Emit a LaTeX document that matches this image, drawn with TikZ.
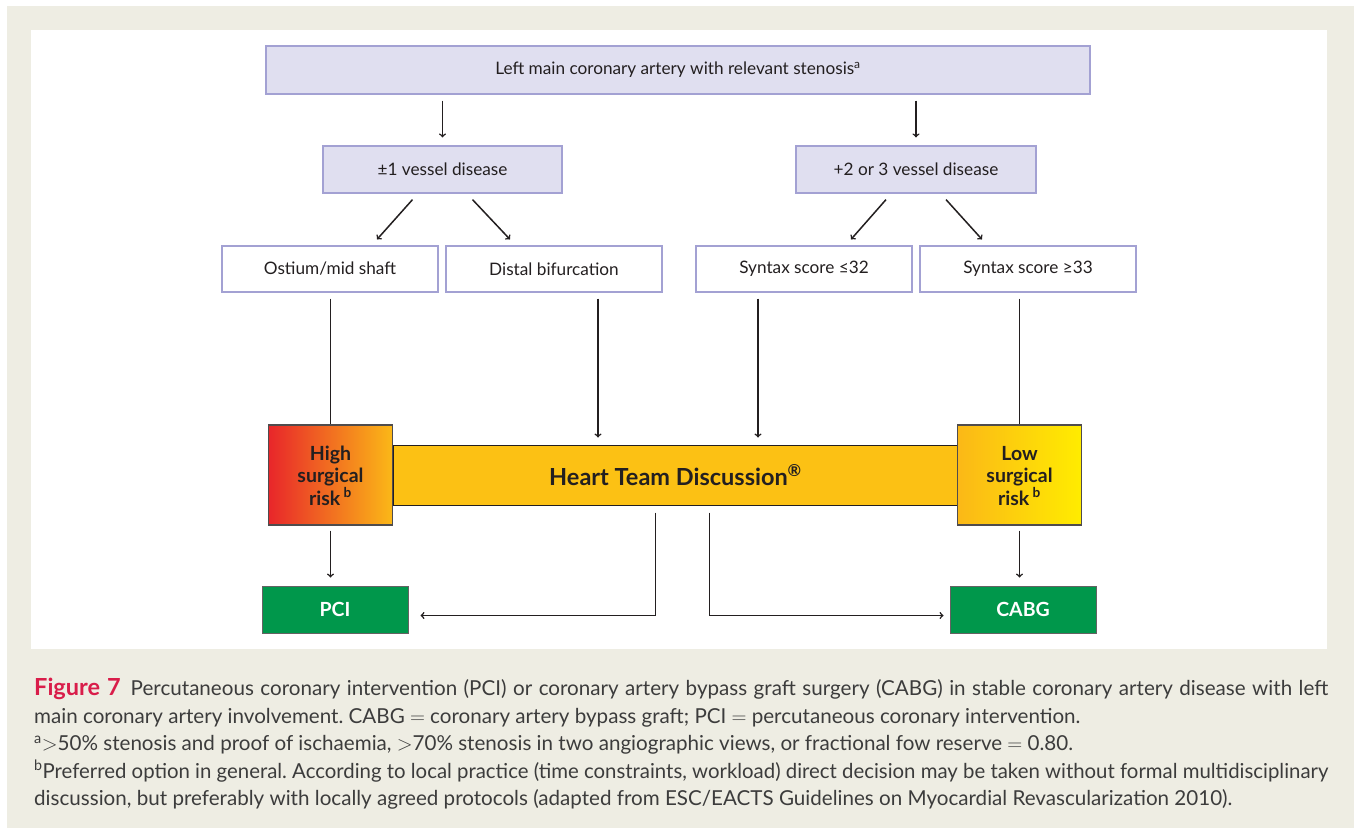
\documentclass[tikz,border=0pt]{standalone}
\usepackage{graphicx}
\usepackage{fontspec}
\setmainfont{Lato}
\usetikzlibrary{calc}

\definecolor{framebg}{HTML}{EEEDE3}
\definecolor{lilac}{HTML}{E0DFF0}
\definecolor{lilacline}{HTML}{A3A1D3}
\definecolor{ink}{HTML}{231F20}
\definecolor{riskred}{HTML}{E8262A}
\definecolor{riskorange}{HTML}{FBB817}
\definecolor{riskyellow}{HTML}{FFEC00}
\definecolor{teamgold}{HTML}{FCC114}
\definecolor{treatgreen}{HTML}{00974B}
\definecolor{figred}{HTML}{D91D4A}
\definecolor{captext}{HTML}{3C3C3C}

% caption lines that run the full width
\newsavebox\capbox
\newcommand\fitline[1]{\sbox\capbox{#1}%
  \ifdim\wd\capbox>1294pt \resizebox{1294pt}{\height}{\usebox\capbox}%
  \else\makebox[1294pt][s]{#1}\fi}

\tikzset{
  lilacbox/.style={draw=lilacline, fill=lilac, line width=1.2pt, text=ink, inner sep=0pt, font=\fontsize{17.2}{20}\selectfont},
  choicebox/.style={lilacbox, fill=white, minimum width=216pt, minimum height=46pt},
  riskbox/.style={draw=ink!80, line width=1.2pt, minimum width=124pt, minimum height=100pt, align=center, text=ink, font=\bfseries\fontsize{19.5}{22.5}\selectfont},
  treatbox/.style={draw=ink!70, line width=1pt, fill=treatgreen, minimum width=146pt, minimum height=47pt, text=white, font=\bfseries\fontsize{19.5}{22}\selectfont},
  link/.style={draw=ink, line width=1.5pt},
  arr/.style={link, ->}
}

\begin{document}
\begin{tikzpicture}[x=1pt,y=-1pt]
\useasboundingbox (0,0) rectangle (1354,828);

% Frame and white panel
\fill[framebg] (7,6) rectangle (1354,828);
\fill[white] (31,30) rectangle (1327,649);

% Top of the tree
\node[lilacbox, minimum width=824pt, minimum height=48pt] (lmca) at (678,70) {Left main coronary artery with relevant stenosis\textsuperscript{a}};
\node[lilacbox, minimum width=239pt, minimum height=47pt] (onevd) at (442.5,169.5) {±1 vessel disease};
\node[lilacbox, minimum width=240pt, minimum height=47pt] (multivd) at (916,169.5) {+2 or 3 vessel disease};

% Anatomy and syntax score
\node[choicebox] (ostium) at (330,269) {Ostium/mid shaft};
\node[choicebox] (distal) at (554,269) {Distal bifurcation};
\node[choicebox] (synlow) at (804,269) {Syntax score ≤32};
\node[choicebox] (synhigh) at (1028,269) {Syntax score ≥33};

% Heart team bar and surgical risk
\node[draw=ink, fill=teamgold, line width=1pt, minimum width=565pt, minimum height=60pt, text=ink, font=\bfseries\fontsize{23.5}{26}\selectfont] (team) at (675.5,475) {Heart Team Discussion\textsuperscript{®}};
\node[riskbox, left color=riskred, right color=riskorange] (highrisk) at (330.5,475) {\strut High\\surgical\\risk\,\textsuperscript{b}};
\node[riskbox, left color=riskorange, right color=riskyellow] (lowrisk) at (1019.5,475) {\strut Low\\surgical\\risk\,\textsuperscript{b}};

% Treatments
\node[treatbox] (pci) at (335,609.5) {PCI};
\node[treatbox] (cabg) at (1023,609.5) {CABG};

% Connectors
\draw[arr, shorten <=6pt, shorten >=8pt] (lmca.south -| onevd.north) -- (onevd.north);
\draw[arr, shorten <=6pt, shorten >=8pt] (lmca.south -| multivd.north) -- (multivd.north);

\draw[arr] ($(onevd.south)+(-30,6)$) -- ($(ostium.north)+(47,-6)$);
\draw[arr] ($(onevd.south)+(30,6)$) -- ($(distal.north)+(-44,-6)$);
\draw[arr] ($(multivd.south)+(-30,6)$) -- ($(synlow.north)+(47,-6)$);
\draw[arr] ($(multivd.south)+(30,6)$) -- ($(synhigh.north)+(-46,-6)$);

\draw[link, shorten <=6pt] (ostium.south -| highrisk.north) -- (highrisk.north);
\coordinate (dfoot) at ($(distal.south)+(44,6)$);
\draw[arr, shorten >=7pt] (dfoot) -- (dfoot |- team.north);
\coordinate (sfoot) at ($(synlow.south)+(-46,6)$);
\draw[arr, shorten >=7pt] (sfoot) -- (sfoot |- team.north);
\draw[link, shorten <=6pt] (synhigh.south -| lowrisk.north) -- (lowrisk.north);

\draw[arr, shorten <=5pt, shorten >=8pt] (highrisk.south) -- (highrisk.south |- pci.north);
\draw[arr, shorten <=5pt, shorten >=8pt] (lowrisk.south) -- (lowrisk.south |- cabg.north);

\draw[arr, shorten >=12pt] ($(team.south)+(-20,7)$) |- ($(pci.east)+(0,6)$);
\draw[arr, shorten >=6pt] ($(team.south)+(34,7)$) |- ($(cabg.west)+(0,6)$);

% Caption
\node[anchor=north west, inner sep=0pt, align=left, text=captext, font=\frenchspacing\fontsize{20.6}{27.5}\selectfont] (caption) at (34,678) {\fitline{{\color{figred}\bfseries\fontsize{23.5}{27.5}\selectfont Figure 7}\hspace{10pt}Percutaneous coronary intervention (PCI) or coronary artery bypass graft surgery (CABG) in stable coronary artery disease with left}\\
main coronary artery involvement. CABG $=$ coronary artery bypass graft; PCI $=$ percutaneous coronary intervention.\\
\textsuperscript{a}$>$50\% stenosis and proof of ischaemia, $>$70\% stenosis in two angiographic views, or fractional fow reserve $=$ 0.80.\\
\fitline{\textsuperscript{b}Preferred option in general. According to local practice (time constraints, workload) direct decision may be taken without formal multidisciplinary}\\
discussion, but preferably with locally agreed protocols (adapted from ESC/EACTS Guidelines on Myocardial Revascularization 2010).};
\end{tikzpicture}
\end{document}
